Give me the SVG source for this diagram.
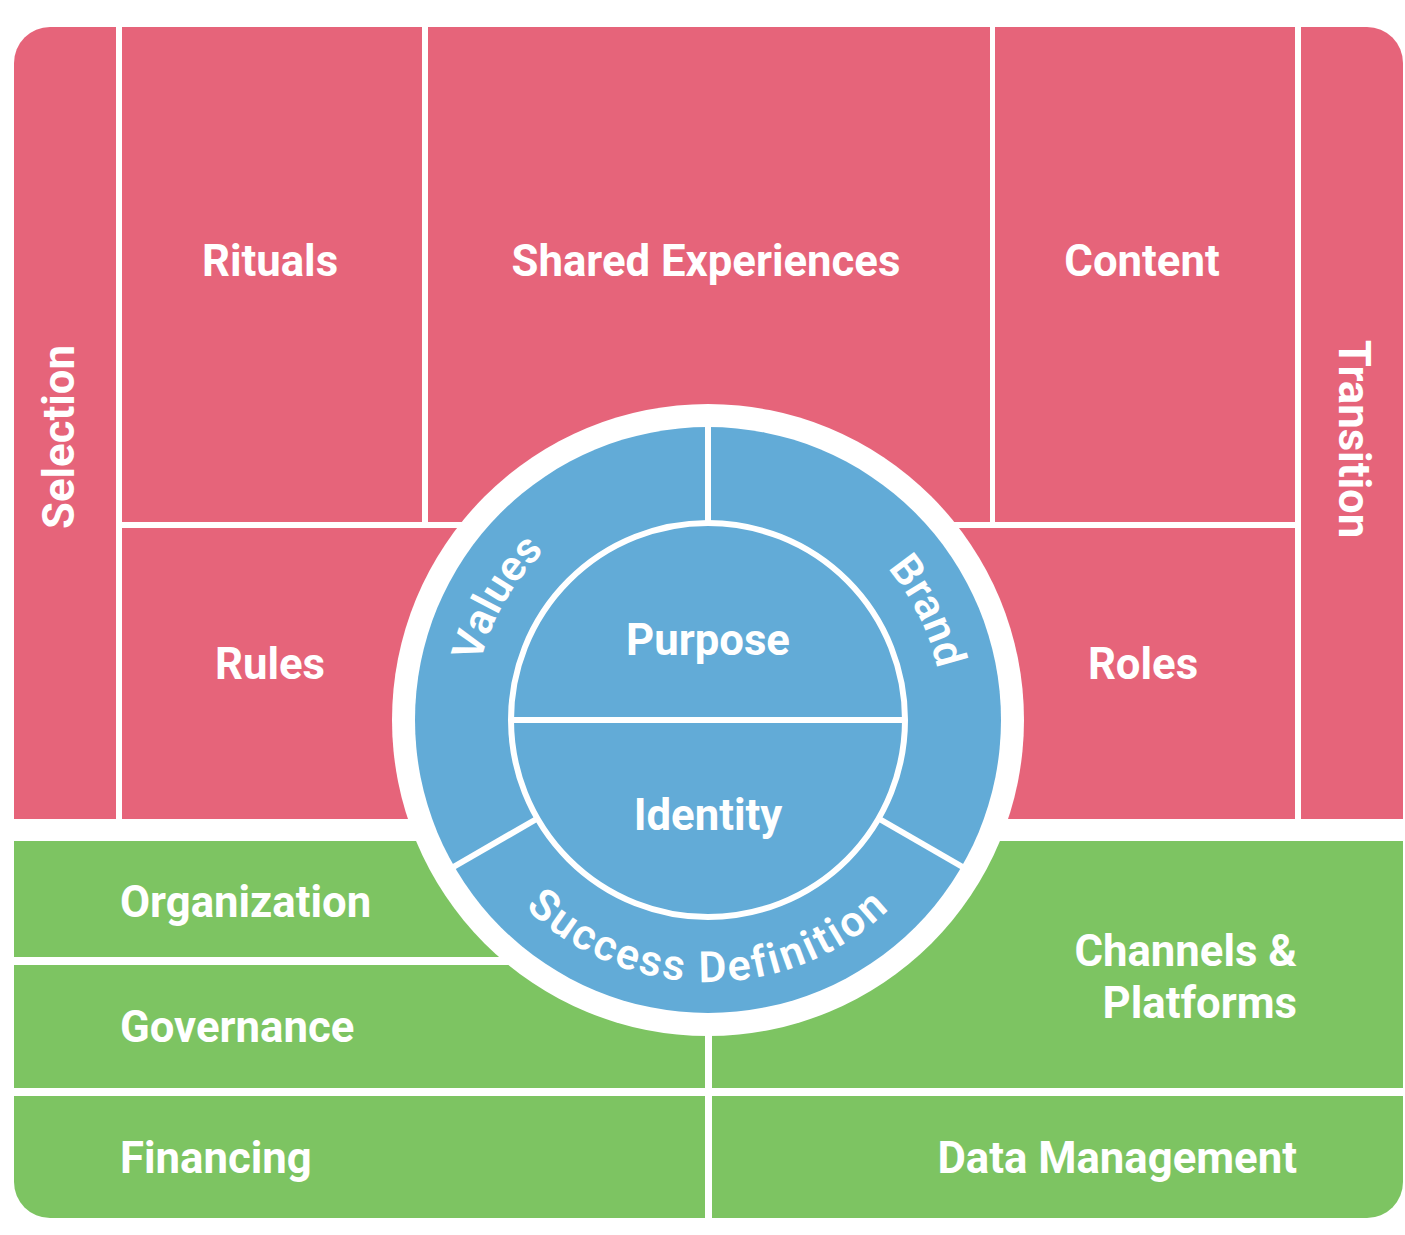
<svg xmlns="http://www.w3.org/2000/svg" width="1405" height="1235" viewBox="0 0 1405 1235">
<style>
.red{fill:#E6647A}
.green{fill:#7DC462}
.blue{fill:#62ABD7}
.lbl{font-family:Roboto,"Liberation Sans",sans-serif;font-weight:700;font-size:43.7px;fill:#FFFFFF}
.mid{text-anchor:middle}
.end{text-anchor:end}
.arc{font-family:Roboto,"Liberation Sans",sans-serif;font-weight:600;font-size:43px;fill:#FFFFFF}
.div{stroke:#FFFFFF;stroke-width:6;fill:none}
</style>
<defs>
<path id="pValues" d="M 504.5 837.5 A 235 235 0 0 1 708 485"/>
<path id="pBrand" d="M 708 485 A 235 235 0 0 1 911.5 837.5"/>
<path id="pSuccess" d="M 481.1 851 A 262 262 0 0 0 934.9 851"/>
</defs>
<rect x="0" y="0" width="1405" height="1235" fill="#FFFFFF"/>
<g id="selection"><path class="red" d="M 14 63 A 36 36 0 0 1 50 27 L 116 27 L 116 819 L 14 819 Z"/><text class="lbl mid" transform="translate(74,437) rotate(-90)">Selection</text></g>
<g id="rituals"><rect class="red" x="122" y="27" width="300" height="495"/><text class="lbl mid" x="270" y="276">Rituals</text></g>
<g id="shared-experiences"><rect class="red" x="428" y="27" width="562" height="495"/><text class="lbl mid" x="706" y="276">Shared Experiences</text></g>
<g id="content"><rect class="red" x="995" y="27" width="300" height="495"/><text class="lbl mid" x="1142" y="276">Content</text></g>
<g id="transition"><path class="red" d="M 1301 27 L 1367 27 A 36 36 0 0 1 1403 63 L 1403 819 L 1301 819 Z"/><text class="lbl mid" transform="translate(1339,439) rotate(90)">Transition</text></g>
<g id="rules"><rect class="red" x="122" y="528" width="586" height="291"/><text class="lbl mid" x="270" y="679">Rules</text></g>
<g id="roles"><rect class="red" x="708" y="528" width="587" height="291"/><text class="lbl mid" x="1143" y="679">Roles</text></g>
<g id="organization"><rect class="green" x="14" y="841" width="691" height="116"/><text class="lbl" x="120" y="917">Organization</text></g>
<g id="governance"><rect class="green" x="14" y="965" width="691" height="123"/><text class="lbl" x="120" y="1042">Governance</text></g>
<g id="channels-platforms"><rect class="green" x="712" y="841" width="691" height="247"/><text class="lbl end" x="1297" y="966">Channels &amp;</text><text class="lbl end" x="1297" y="1018">Platforms</text></g>
<g id="financing"><path class="green" d="M 14 1096 L 705 1096 L 705 1218 L 50 1218 A 36 36 0 0 1 14 1182 Z"/><text class="lbl" x="120" y="1173">Financing</text></g>
<g id="data-management"><path class="green" d="M 712 1096 L 1403 1096 L 1403 1182 A 36 36 0 0 1 1367 1218 L 712 1218 Z"/><text class="lbl end" x="1297" y="1173">Data Management</text></g>
<g id="circle-frame"><circle cx="708" cy="720" r="316" fill="#FFFFFF"/><circle class="blue" cx="708" cy="720" r="293"/></g>
<g id="connectors">
<line class="div" x1="708" y1="424" x2="708" y2="524"/>
<line class="div" x1="537.4" y1="818.5" x2="452.5" y2="867.5"/>
<line class="div" x1="878.6" y1="818.5" x2="963.5" y2="867.5"/>
</g>
<g id="values"><text class="arc"><textPath href="#pValues" startOffset="50%" text-anchor="middle">Values</textPath></text></g>
<g id="brand"><text class="arc"><textPath href="#pBrand" startOffset="53%" text-anchor="middle">Brand</textPath></text></g>
<g id="success-definition"><text class="arc" letter-spacing="2.5"><textPath href="#pSuccess" startOffset="50%" text-anchor="middle">Success Definition</textPath></text></g>
<g id="core"><circle class="blue" cx="708" cy="720" r="197" stroke="#FFFFFF" stroke-width="6"/><line class="div" x1="511" y1="720" x2="905" y2="720"/></g>
<g id="purpose"><text class="lbl mid" x="708" y="655">Purpose</text></g>
<g id="identity"><text class="lbl mid" x="708" y="830">Identity</text></g>
</svg>
